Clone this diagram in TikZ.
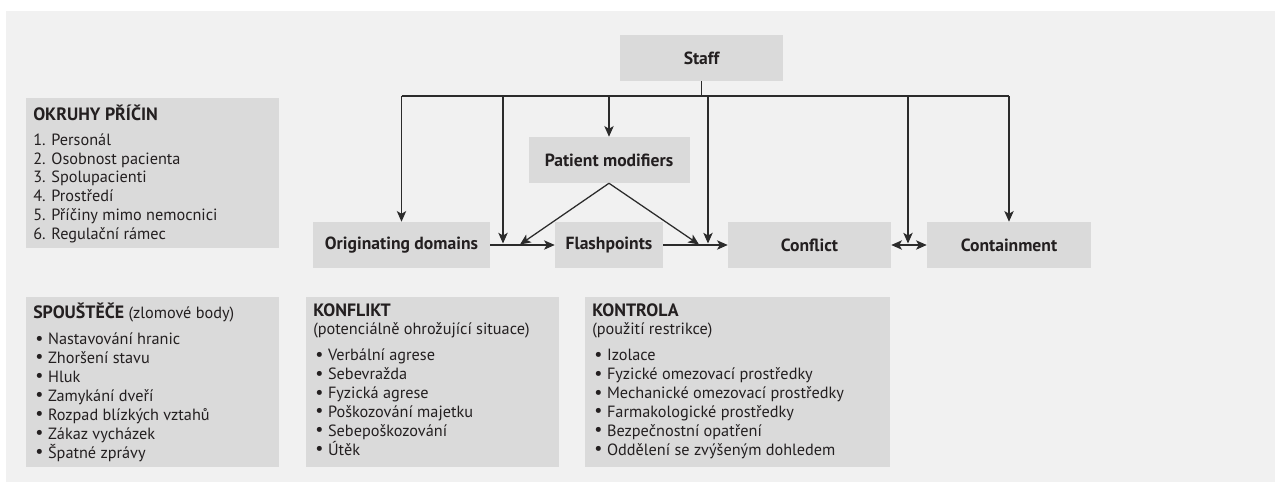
\documentclass[tikz,border=0pt]{standalone}
\usepackage{fontspec}
\setmainfont{PT Sans}
\usetikzlibrary{arrows.meta}
\definecolor{bgc}{HTML}{F1F1F1}
\definecolor{boxc}{HTML}{DADADA}
\definecolor{txtc}{HTML}{231F20}
\definecolor{linec}{HTML}{2B2B2B}
\tikzset{
  flow/.style={fill=boxc, inner sep=0pt, text=txtc, font=\bfseries\fontsize{13.2}{15}\selectfont},
  panel/.style={fill=boxc, inner sep=0pt},
  paneltext/.style={anchor=north west, inner sep=0pt, align=left, text=txtc, font=\fontsize{12.2}{14.2}\selectfont},
  arr/.style={draw=linec, line width=0.95pt, -{Stealth[length=8pt,width=7pt,inset=2pt]}},
  dbl/.style={draw=linec, line width=0.95pt, {Stealth[length=8pt,width=7pt,inset=2pt]}-{Stealth[length=8pt,width=7pt,inset=2pt]}},
  ln/.style={draw=linec, line width=0.95pt}
}
\newcommand{\hd}[1]{{\bfseries\fontsize{13.4}{14.2}\selectfont #1}}
\newcommand{\bul}{\hspace{1.5pt}\raisebox{0.3pt}{\fontsize{13.5}{14}\selectfont •}\hspace{3.5pt}}
\begin{document}
\begin{tikzpicture}[x=0.75pt,y=-0.75pt]
\useasboundingbox (0,0) rectangle (1275,482);
\fill[bgc] (6,11) rectangle (1275,482);

% flow nodes
\node (staff) [flow, minimum width=163*0.75pt, minimum height=46*0.75pt] at (701.5,58) {Staff};
\node (pm) [flow, minimum width=161*0.75pt, minimum height=46*0.75pt] at (609,160) {Patient modifiers};
\node (orig) [flow, minimum width=177*0.75pt, minimum height=46*0.75pt] at (401.5,245) {Originating domains};
\node (flash) [flow, minimum width=108*0.75pt, minimum height=46*0.75pt] at (609,245) {Flashpoints};
\node (conf) [flow, minimum width=163*0.75pt, minimum height=46*0.75pt] at (809.5,245) {Conflict};
\node (cont) [flow, minimum width=164*0.75pt, minimum height=46*0.75pt] at (1009,245) {Containment};

% staff distribution line
\coordinate (hl) at (0,96);
\coordinate (d2) at (503,96);
\coordinate (d4) at (708,96);
\coordinate (d5) at (908,96);
\coordinate (t2) at (503,243.5);
\coordinate (t4) at (708,243.5);
\coordinate (t5) at (908,243.5);
\coordinate (p1) at (520,244.5);
\coordinate (p2) at (699,244.5);

\draw[ln] (staff.south) -- (staff.south |- hl);
\draw[ln] (orig.north |- hl) -- (cont.north |- hl);
\draw[arr] (orig.north |- hl) -- (orig.north);
\draw[arr] (d2) -- (t2);
\draw[arr] (pm.north |- hl) -- (pm.north);
\draw[arr] (d4) -- (t4);
\draw[arr] (d5) -- (t5);
\draw[arr] (cont.north |- hl) -- (cont.north);

\draw[arr] (orig.east) -- (flash.west);
\draw[arr] (flash.east) -- (conf.west);
\draw[dbl] (conf.east) -- (cont.west);
\draw[arr] (pm.south) -- (p1);
\draw[arr] (pm.south) -- (p2);

% panels
\node (okr) [panel, anchor=north west, minimum width=253*0.75pt, minimum height=150*0.75pt] at (26,98) {};
\node (okrt) [paneltext] at (33,105) {\hd{OKRUHY PŘÍČIN}\\[4pt]
1. Personál\\
2. Osobnost pacienta\\
3. Spolupacienti\\
4. Prostředí\\
5. Příčiny mimo nemocnici\\
6. Regulační rámec};

\node (spo) [panel, anchor=north west, minimum width=253*0.75pt, minimum height=170*0.75pt] at (26,297) {};
\node (spot) [paneltext] at (33,303) {\hd{SPOUŠTĚČE} (zlomové body)\\[5pt]
\bul Nastavování hranic\\
\bul Zhoršení stavu\\
\bul Hluk\\
\bul Zamykání dveří\\
\bul Rozpad blízkých vztahů\\
\bul Zákaz vycházek\\
\bul Špatné zprávy};

\node (kfl) [panel, anchor=north west, minimum width=253*0.75pt, minimum height=170*0.75pt] at (306,297) {};
\node (kflt) [paneltext] at (313,303) {\hd{KONFLIKT}\\
(potenciálně ohrožující situace)\\[5pt]
\bul Verbální agrese\\
\bul Sebevražda\\
\bul Fyzická agrese\\
\bul Poškozování majetku\\
\bul Sebepoškozování\\
\bul Útěk};

\node (ktr) [panel, anchor=north west, minimum width=305*0.75pt, minimum height=170*0.75pt] at (585,297) {};
\node (ktrt) [paneltext] at (592,303) {\hd{KONTROLA}\\
(použití restrikce)\\[5pt]
\bul Izolace\\
\bul Fyzické omezovací prostředky\\
\bul Mechanické omezovací prostředky\\
\bul Farmakologické prostředky\\
\bul Bezpečnostní opatření\\
\bul Oddělení se zvýšeným dohledem};
\end{tikzpicture}
\end{document}
